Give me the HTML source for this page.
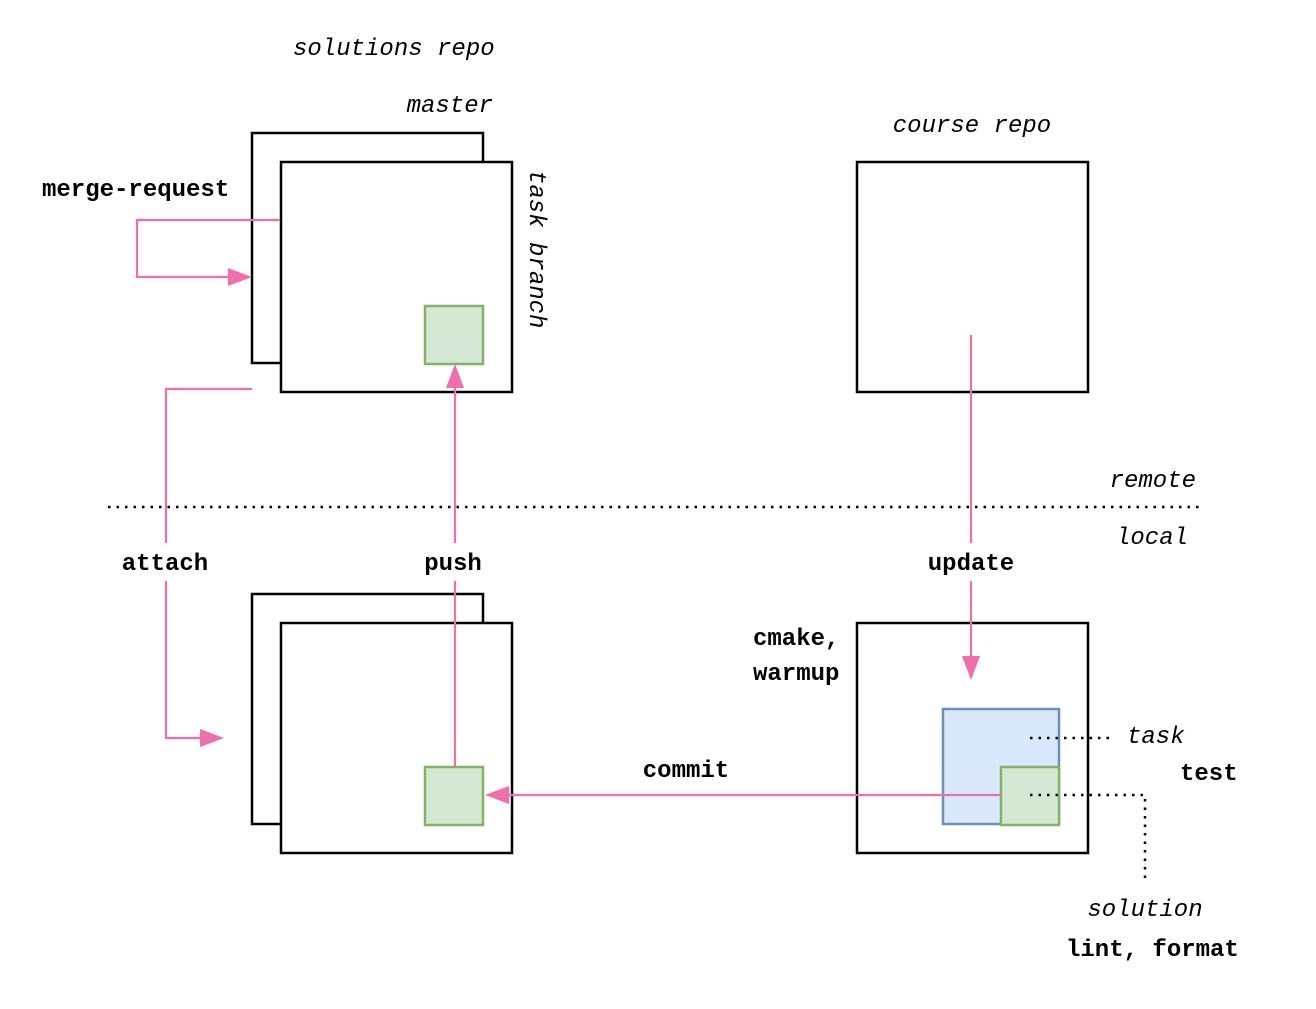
<!DOCTYPE html>
<html><head><meta charset="utf-8"><style>html,body{margin:0;padding:0;background:#fff}</style></head>
<body>
<svg width="1316" height="1004" viewBox="0 0 1316 1004" xmlns="http://www.w3.org/2000/svg" font-family="Liberation Mono, DejaVu Sans Mono, monospace" font-size="24">
<rect width="1316" height="1004" fill="#fff"/>
<g fill="none" stroke="#000" stroke-width="2.5">
<rect x="252" y="133" width="231" height="230" fill="#fff"/>
<rect x="281" y="162" width="231" height="230" fill="#fff"/>
<rect x="857" y="162" width="231" height="230"/>
<rect x="252" y="594" width="231" height="230" fill="#fff"/>
<rect x="281" y="623" width="231" height="230" fill="#fff"/>
<rect x="857" y="623" width="231" height="230"/>
</g>
<rect x="425" y="306" width="58" height="58" fill="#d5e8d4" stroke="#82b366" stroke-width="2.5"/>
<rect x="425" y="767" width="58" height="58" fill="#d5e8d4" stroke="#82b366" stroke-width="2.5"/>
<rect x="943" y="709" width="116" height="115" fill="#dae8fc" stroke="#6c8ebf" stroke-width="2.5"/>
<rect x="1001" y="767" width="58" height="58" fill="#d5e8d4" stroke="#82b366" stroke-width="2.5"/>
<line x1="108" y1="507" x2="1200" y2="507" stroke="#000" stroke-width="2.5" stroke-dasharray="2.5 6"/>
<g stroke="#000" stroke-width="2.5" stroke-dasharray="2.5 6" fill="none">
<line x1="1030" y1="738" x2="1112" y2="738"/>
<polyline points="1030,795 1145,795 1145,882"/>
</g>
<g stroke="#f06eaa" stroke-width="2.2" fill="none">
<polyline points="280,220 137,220 137,277 232,277"/>
<polyline points="252,389 166,389 166,543"/>
<polyline points="166,581 166,738 204,738"/>
<line x1="455" y1="767" x2="455" y2="581"/>
<line x1="455" y1="543" x2="455" y2="378"/>
<line x1="971" y1="335" x2="971" y2="543"/>
<line x1="971" y1="581" x2="971" y2="664"/>
<line x1="1001" y1="795" x2="500" y2="795"/>
</g>
<g fill="#f06eaa">
<polygon points="252,277 228,268 228,286"/>
<polygon points="224,738 200,729 200,747"/>
<polygon points="455,364 446,388 464,388"/>
<polygon points="971,680 962,656 980,656"/>
<polygon points="485,795 509,786 509,804"/>
</g>
<g font-style="italic" fill="#000">
<text x="293" y="55">solutions repo</text>
<text x="493" y="112" text-anchor="end">master</text>
<text x="972" y="132" text-anchor="middle">course repo</text>
<text transform="translate(530,170) rotate(90)">task branch</text>
<text x="1196" y="487" text-anchor="end">remote</text>
<text x="1188" y="544" text-anchor="end">local</text>
<text x="1127" y="743">task</text>
<text x="1145" y="916" text-anchor="middle">solution</text>
</g>
<g font-weight="bold" fill="#000">
<text x="42" y="196">merge-request</text>
<text x="165" y="570" text-anchor="middle">attach</text>
<text x="453" y="570" text-anchor="middle">push</text>
<text x="971" y="570" text-anchor="middle">update</text>
<text x="686" y="777" text-anchor="middle">commit</text>
<text x="753" y="645">cmake,</text>
<text x="753" y="680">warmup</text>
<text x="1180" y="780">test</text>
<text x="1066" y="956">lint, format</text>
</g>
</svg>
</body></html>
